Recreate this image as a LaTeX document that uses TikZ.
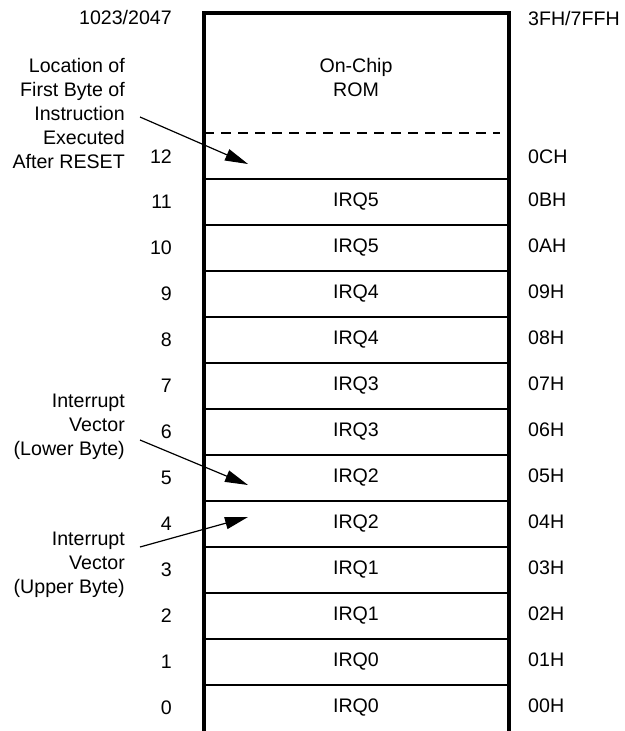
\documentclass[tikz,border=0pt]{standalone}
\usepackage{fontspec}
\setmainfont{Liberation Sans}
\usetikzlibrary{arrows.meta,calc,positioning}

\tikzset{
  lbl/.style={font=\fontsize{19.6pt}{24pt}\selectfont, inner sep=0pt},
  side/.style={lbl, align=right, anchor=east},
  rowline/.style={line width=1.5pt},
  pointer/.style={->, line width=1.2pt},
}

\begin{document}
\begin{tikzpicture}[>={Triangle[length=23pt,width=12pt]},x=1pt,y=-1pt]
		\useasboundingbox (0,0) rectangle (624,731);
		
		% Memory block, open at the bottom
		\draw[line width=3.2pt] (204,731) -- (204,13) -- (509,13) -- (509,731);
		\node[lbl,anchor=east] (topdec) at (172,17) {1023/2047};
		\node[lbl,anchor=west] (tophex) at (528,18) {3FH/7FFH};
		
		% ROM area
		\node[lbl,align=center] (rom) at (356,77) {On-Chip\\ROM};
		\draw[line width=1.3pt,dash pattern=on 10pt off 7pt] (204,133) -- (500,133);
		\node[lbl,anchor=east] (dec12) at (172,157) {12};
		\node[lbl,anchor=west] (hex12) at (528,157) {0CH};
		
		% Interrupt vector rows
		\foreach \i/\irq/\hex in {0/IRQ0/00H,1/IRQ0/01H,2/IRQ1/02H,3/IRQ1/03H,
		  4/IRQ2/04H,5/IRQ2/05H,6/IRQ3/06H,7/IRQ3/07H,8/IRQ4/08H,9/IRQ4/09H,
		  10/IRQ5/0AH,11/IRQ5/0BH}{
		  \draw[rowline] (205,{685-46*\i}) -- (508,{685-46*\i});
		  \node[lbl] (irq\i) at (356,{708-46*\i}) {\irq};
		  \node[lbl,anchor=east] (dec\i) at (172,{708-46*\i}) {\i};
		  \node[lbl,anchor=west] (hex\i) at (528,{706-46*\i}) {\hex};
		}
		
		% Annotations
		\node[side] (reset) at (125,113) {Location of\\First Byte of\\Instruction\\Executed\\After RESET};
		\node[side] (lower) at (125,427) {Interrupt\\Vector\\(Lower Byte)};
		\node[side] (upper) at (125,565) {Interrupt\\Vector\\(Upper Byte)};
		
		\coordinate (tipreset) at (248,164);
		\coordinate (tiplower) at (248,485);
		\coordinate (tipupper) at (248,517);
		
		\draw[pointer] ($(reset.east)+(15,4)$) -- (tipreset);
		\draw[pointer] ($(lower.east)+(15,13)$) -- (tiplower);
		\draw[pointer] ($(upper.east)+(15,-18)$) -- (tipupper);
		
	\end{tikzpicture}
\end{document}
